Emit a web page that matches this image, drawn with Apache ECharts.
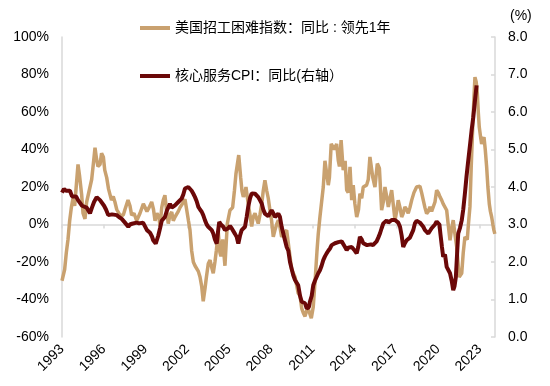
<!DOCTYPE html>
<html>
<head>
<meta charset="utf-8">
<script src="https://cdn.jsdelivr.net/npm/echarts@6/dist/echarts.min.js"></script>
<style>html,body{margin:0;padding:0;background:#fff;}#c{width:550px;height:386px;}</style>
</head>
<body>
<div id="c"></div>
<script>
const tickYears = [1993,1996,1999,2002,2005,2008,2011,2014,2017,2020,2023];
const leftTicks = [-60,-40,-20,0,20,40,60,80,100];
const rightTicks = [0,1,2,3,4,5,6,7,8];
const seriesNames = ['美国招工困难指数：同比 : 领先1年', '核心服务CPI：同比(右轴）'];

const tanYears = [1993.00,1993.19,1993.31,1993.43,1993.55,1993.67,1993.79,1993.91,1994.04,1994.15,1994.26,1994.41,1994.51,1994.65,1994.77,1994.89,1995.01,1995.13,1995.26,1995.37,1995.48,1995.58,1995.73,1995.84,1995.97,1996.07,1996.21,1996.34,1996.45,1996.55,1996.68,1996.80,1996.93,1997.06,1997.16,1997.27,1997.40,1997.52,1997.74,1997.88,1998.00,1998.17,1998.36,1998.60,1998.84,1998.96,1999.10,1999.25,1999.44,1999.57,1999.68,1999.82,1999.96,2000.04,2000.16,2000.27,2000.39,2000.50,2000.63,2000.75,2000.88,2000.99,2001.11,2001.35,2001.47,2001.59,2001.72,2001.83,2001.95,2002.08,2002.19,2002.31,2002.43,2002.55,2002.67,2002.79,2002.91,2003.03,2003.14,2003.27,2003.37,2003.50,2003.63,2003.75,2003.86,2003.98,2004.08,2004.22,2004.34,2004.41,2004.54,2004.70,2004.87,2005.06,2005.25,2005.38,2005.49,2005.69,2005.83,2005.92,2006.02,2006.14,2006.21,2006.37,2006.50,2006.62,2006.73,2006.86,2006.98,2007.09,2007.21,2007.34,2007.45,2007.57,2007.70,2007.81,2007.93,2008.05,2008.17,2008.29,2008.41,2008.53,2008.65,2008.77,2008.89,2009.01,2009.13,2009.25,2009.37,2009.49,2009.73,2009.96,2010.09,2010.21,2010.32,2010.45,2010.64,2010.77,2010.90,2011.04,2011.19,2011.31,2011.40,2011.52,2011.64,2011.76,2011.88,2012.00,2012.12,2012.20,2012.33,2012.46,2012.56,2012.72,2012.84,2012.92,2013.04,2013.19,2013.33,2013.44,2013.55,2013.68,2013.80,2013.91,2014.03,2014.16,2014.29,2014.39,2014.52,2014.63,2014.75,2014.87,2014.99,2015.11,2015.31,2015.47,2015.64,2015.79,2015.95,2016.07,2016.19,2016.31,2016.43,2016.55,2016.67,2016.78,2016.91,2017.03,2017.14,2017.27,2017.39,2017.50,2017.62,2017.75,2017.86,2017.98,2018.11,2018.27,2018.46,2018.58,2018.70,2018.82,2018.94,2019.06,2019.18,2019.30,2019.42,2019.54,2019.66,2019.78,2019.90,2020.02,2020.14,2020.26,2020.37,2020.50,2020.62,2020.73,2020.86,2020.98,2021.09,2021.21,2021.34,2021.43,2021.52,2021.61,2021.70,2021.81,2021.93,2022.10,2022.18,2022.29,2022.38,2022.49,2022.58,2022.65,2022.74,2022.82,2022.89,2022.96,2023.05,2023.13,2023.22,2023.30,2023.39,2023.49,2023.58,2023.68,2023.76,2023.85,2023.94,2024.01,2024.08];
const tanValues = [-30,-24,-15,-8,2,9,14,10,22,32,26,16,6,3,12,16,20,24,33,41,35,31,32,38,36,29,25,19,18,13,15,12,8,9,5,4,5,8,13,10,5,6,2,6,11,12,7,9,12,8,2,6,4,-1,9,13,15.6,8,0.5,5,6.7,2,4,7,9,10,12,13.5,8,2,-3,-14,-20,-22,-22.6,-25,-28,-33,-41,-34,-28,-21,-19,-23,-26,-20,-14,-4,-15,-17,-8,-22,0.5,7.6,9,18,27,37,25,18,14.7,17,20,11,5,-1,4,6,3,0.5,5,11,18,23.6,18,14,7.6,2,-6.6,-3,0,2.3,-1.3,-6.6,-5,-4.8,-3,-10,-17,-24,-28,-36.7,-38,-44.7,-47,-49,-44,-47,-50,-44,-28,-14,-5,4,5,20,34,33,21,25,43,44,40,43,34,31,45,29,34,18.3,17,30.7,13,21,11,4,8,16.5,14,20,19,21,24,36,25.3,20,32.5,30,7.6,12,20,15,9.4,14,18.3,11,2.3,7,13,9,4,6,9.4,8,6,9,13,17,20,21,20.5,17,13,9,5.8,7,9.4,7,6,12,18.3,17,14.7,13,11,10,7.6,0,-8.4,-2,2.3,-5,-12,-20,-28,-28,-26,-15,-6.6,-8,0,9.4,30,52,68,78.6,76,70,60,52,47,43,45,46.6,40,30.7,20,11,7,4,0,-3,-5];

const cpiYears = [1993.00,1993.14,1993.29,1993.43,1993.57,1993.72,1993.86,1994.01,1994.15,1994.29,1994.44,1994.58,1994.77,1994.87,1995.01,1995.15,1995.30,1995.49,1995.58,1995.73,1995.85,1996.02,1996.16,1996.32,1996.45,1996.59,1996.73,1996.93,1997.09,1997.29,1997.40,1997.52,1997.64,1997.76,1997.88,1998.03,1998.17,1998.36,1998.53,1998.67,1998.82,1998.96,1999.10,1999.32,1999.46,1999.55,1999.73,1999.91,2000.04,2000.16,2000.39,2000.54,2000.63,2000.75,2000.88,2000.99,2001.11,2001.23,2001.35,2001.59,2001.71,2001.83,2001.95,2002.07,2002.19,2002.31,2002.43,2002.55,2002.67,2002.79,2002.91,2003.03,2003.14,2003.27,2003.39,2003.50,2003.63,2003.75,2003.86,2003.98,2004.11,2004.20,2004.29,2004.41,2004.58,2004.70,2004.82,2004.94,2005.06,2005.18,2005.30,2005.42,2005.54,2005.66,2005.78,2005.90,2006.02,2006.14,2006.26,2006.37,2006.50,2006.62,2006.73,2006.86,2006.98,2007.09,2007.21,2007.34,2007.45,2007.57,2007.70,2007.81,2007.93,2008.05,2008.17,2008.29,2008.41,2008.53,2008.65,2008.77,2008.89,2009.01,2009.13,2009.25,2009.37,2009.49,2009.60,2009.73,2009.85,2009.96,2010.09,2010.21,2010.32,2010.45,2010.57,2010.64,2010.73,2010.80,2010.93,2011.04,2011.16,2011.28,2011.40,2011.52,2011.64,2011.76,2011.88,2012.00,2012.12,2012.24,2012.36,2012.48,2012.60,2012.72,2012.84,2012.96,2013.08,2013.19,2013.32,2013.44,2013.55,2013.68,2013.80,2013.91,2014.03,2014.16,2014.27,2014.39,2014.52,2014.63,2014.75,2014.90,2015.04,2015.18,2015.33,2015.47,2015.59,2015.71,2015.83,2015.95,2016.07,2016.19,2016.31,2016.43,2016.55,2016.67,2016.78,2016.91,2017.03,2017.14,2017.27,2017.39,2017.50,2017.62,2017.75,2017.86,2017.98,2018.11,2018.22,2018.34,2018.46,2018.58,2018.70,2018.82,2018.94,2019.06,2019.18,2019.30,2019.42,2019.54,2019.66,2019.78,2019.90,2020.02,2020.10,2020.17,2020.28,2020.37,2020.50,2020.62,2020.73,2020.86,2020.98,2021.09,2021.18,2021.28,2021.38,2021.45,2021.57,2021.70,2021.81,2021.93,2022.05,2022.17,2022.29,2022.41,2022.53,2022.65,2022.77];
const cpiValues = [3.85,3.95,3.9,3.95,3.9,3.75,3.7,3.75,3.65,3.6,3.5,3.45,3.45,3.4,3.3,3.45,3.6,3.73,3.7,3.65,3.6,3.5,3.4,3.25,3.28,3.27,3.22,3.25,3.2,3.15,3.2,3.05,3.0,2.94,3.0,3.02,3.03,3.05,3.03,3.07,3.05,2.95,2.85,2.78,2.68,2.58,2.49,2.7,2.9,3.1,3.2,3.38,3.43,3.55,3.45,3.5,3.51,3.55,3.6,3.69,3.8,3.96,4.0,4.0,3.98,3.9,3.82,3.73,3.62,3.47,3.4,3.34,3.25,3.11,3.0,2.94,2.94,2.85,2.76,2.6,2.49,2.8,3.07,3.0,2.94,2.85,2.8,2.9,2.96,2.9,2.85,2.75,2.67,2.49,2.7,2.85,2.85,2.94,3.2,3.47,3.7,3.83,3.87,3.82,3.8,3.73,3.65,3.56,3.4,3.29,3.25,3.22,3.3,3.38,3.3,3.2,3.25,3.29,3.2,2.94,2.76,2.58,2.4,2.3,2.0,1.96,1.65,1.52,1.5,1.38,1.1,0.94,0.95,0.9,0.76,0.72,0.8,0.94,1.1,1.38,1.5,1.6,1.7,1.78,1.9,2.05,2.15,2.23,2.3,2.36,2.45,2.47,2.5,2.5,2.53,2.58,2.55,2.5,2.4,2.32,2.38,2.4,2.4,2.4,2.3,2.23,2.4,2.67,2.6,2.5,2.45,2.45,2.5,2.47,2.45,2.5,2.55,2.65,2.76,2.9,3.03,3.08,3.11,3.05,3.1,3.12,3.08,3.12,3.16,3.05,2.94,2.7,2.4,2.5,2.58,2.6,2.65,2.67,2.85,3.03,3.1,3.11,3.05,3.0,2.94,2.85,2.8,2.76,2.8,2.9,2.94,3.0,3.08,3.11,3.0,2.75,2.4,2.14,2.2,1.87,1.9,1.7,1.5,1.25,1.35,1.6,2.3,2.76,2.9,3.11,3.4,3.83,4.3,4.71,5.1,5.51,5.86,6.3,6.71];

const TAN = '#C9A16F';
const DARK = '#6B0808';
const AXIS = '#D9D9D9';
const FONT = 'Arial, "Liberation Sans", "Noto Sans CJK SC", sans-serif';

const tanData = tanYears.map((y, i) => [y, tanValues[i]]);
const cpiData = cpiYears.map((y, i) => [y, cpiValues[i]]);

const chart = echarts.init(document.getElementById('c'), null, {renderer: 'canvas'});
chart.setOption({
  animation: false,
  backgroundColor: '#fff',
  textStyle: {fontFamily: FONT},
  grid: {left: 62, right: 55, top: 37, bottom: 49, containLabel: false},
  legend: [
    {data: [seriesNames[0]], left: 135, top: 16, icon: 'rect', itemWidth: 30, itemHeight: 4, itemGap: 5,
     textStyle: {fontSize: 14, color: '#000', fontFamily: FONT}},
    {data: [seriesNames[1]], left: 135, top: 64, icon: 'rect', itemWidth: 30, itemHeight: 4, itemGap: 5,
     textStyle: {fontSize: 14, color: '#000', fontFamily: FONT}}
  ],
  xAxis: [
    {type: 'value', position: 'bottom', min: 1993, max: 2024.09,
     axisLine: {show: false}, axisTick: {show: false}, splitLine: {show: false},
     axisLabel: {customValues: tickYears, rotate: 45, margin: 10, fontSize: 14, color: '#000', fontFamily: FONT,
                 formatter: v => String(Math.round(v))}},
    {type: 'value', position: 'top', min: 1993, max: 2024.09,
     axisLine: {show: true, onZero: true, onZeroAxisIndex: 0, lineStyle: {color: AXIS, width: 1.5}},
     axisTick: {show: true, inside: true, length: 4, customValues: tickYears, lineStyle: {color: AXIS, width: 1.5}},
     axisLabel: {show: false}, splitLine: {show: false}}
  ],
  yAxis: [
    {type: 'value', min: -60, max: 100, interval: 20, position: 'left',
     axisLine: {show: true, lineStyle: {color: AXIS, width: 1.5}}, axisTick: {show: false}, splitLine: {show: false},
     axisLabel: {margin: 13, fontSize: 14, color: '#000', fontFamily: FONT, formatter: v => v + '%'}},
    {type: 'value', min: 0, max: 8, interval: 1, position: 'right',
     name: '(%)', nameLocation: 'end', nameGap: 14,
     nameTextStyle: {fontSize: 14, color: '#000', fontFamily: FONT, align: 'left', padding: [0, 0, 0, 15]},
     axisLine: {show: true, lineStyle: {color: AXIS, width: 1.5}},
     axisTick: {show: true, inside: true, length: 4, lineStyle: {color: AXIS, width: 1.5}}, splitLine: {show: false},
     axisLabel: {margin: 13, fontSize: 14, color: '#000', fontFamily: FONT, formatter: v => v.toFixed(1)}}
  ],
  series: [
    {name: seriesNames[0], type: 'line', xAxisIndex: 0, yAxisIndex: 0, data: tanData, symbol: 'none',
     lineStyle: {color: TAN, width: 3.5}, itemStyle: {color: TAN}, z: 2},
    {name: seriesNames[1], type: 'line', xAxisIndex: 0, yAxisIndex: 1, data: cpiData, symbol: 'none',
     lineStyle: {color: DARK, width: 4}, itemStyle: {color: DARK}, z: 3}
  ]
});
</script>
</body>
</html>
